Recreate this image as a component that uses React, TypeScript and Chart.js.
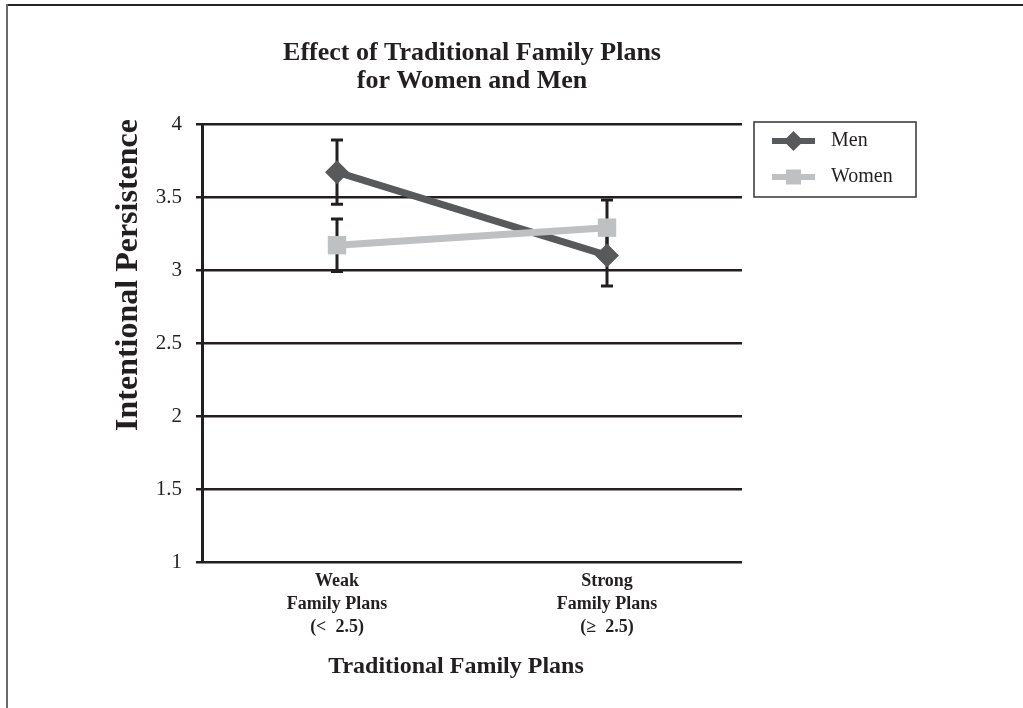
import React, { useEffect, useRef } from 'react';
import { Chart, registerables } from 'chart.js';

Chart.register(...registerables);

// ---- data ----
const categories: string[][] = [
  ['Weak', 'Family Plans', '(<  2.5)'],
  ['Strong', 'Family Plans', '(≥  2.5)'],
];
const seriesNames = ['Men', 'Women'];
const menValues = [3.67, 3.1];
const menErrLow = [3.45, 2.89];
const menErrHigh = [3.89, 3.29];
const womenValues = [3.17, 3.29];
const womenErrLow = [2.99, 3.1];
const womenErrHigh = [3.35, 3.48];
const yTicks = [1, 1.5, 2, 2.5, 3, 3.5, 4];
const yTickLabels = ['1', '1.5', '2', '2.5', '3', '3.5', '4'];
const titleLines = ['Effect of Traditional Family Plans', 'for Women and Men'];
const xTitle = 'Traditional Family Plans';
const yTitle = 'Intentional Persistence';

const MEN_COLOR = '#58595b';
const WOMEN_COLOR = '#bfc0c2';
const INK = '#231f20';
const SERIF = "'Liberation Serif', 'Times New Roman', serif";

const W = 1023;
const H = 708;

function drawDiamond(ctx: CanvasRenderingContext2D, x: number, y: number, r: number, color: string) {
  ctx.beginPath();
  ctx.moveTo(x, y - r);
  ctx.lineTo(x + r, y);
  ctx.lineTo(x, y + r);
  ctx.lineTo(x - r, y);
  ctx.closePath();
  ctx.fillStyle = color;
  ctx.fill();
}

const decorPlugin = {
  id: 'decor',
  beforeDraw(chart: any) {
    const ctx = chart.ctx as CanvasRenderingContext2D;
    ctx.save();
    ctx.fillStyle = '#ffffff';
    ctx.fillRect(0, 0, W, H);
    // frame
    ctx.strokeStyle = '#222222';
    ctx.lineWidth = 2;
    ctx.beginPath();
    ctx.moveTo(6, 5);
    ctx.lineTo(W, 5);
    ctx.stroke();
    ctx.strokeStyle = '#6b6b6b';
    ctx.beginPath();
    ctx.moveTo(7, 4);
    ctx.lineTo(7, H);
    ctx.stroke();
    ctx.restore();
  },
  beforeDatasetsDraw(chart: any) {
    const ctx = chart.ctx as CanvasRenderingContext2D;
    const xs = chart.scales.x;
    const ys = chart.scales.y;
    const bars = [
      [menErrLow, menErrHigh],
      [womenErrLow, womenErrHigh],
    ];
    ctx.save();
    ctx.strokeStyle = INK;
    ctx.lineWidth = 3;
    bars.forEach(([lo, hi]) => {
      lo.forEach((l, i) => {
        const x = xs.getPixelForValue(i);
        const y1 = ys.getPixelForValue(l);
        const y2 = ys.getPixelForValue(hi[i]);
        ctx.beginPath();
        ctx.moveTo(x, y1);
        ctx.lineTo(x, y2);
        ctx.moveTo(x - 6, y1);
        ctx.lineTo(x + 6, y1);
        ctx.moveTo(x - 6, y2);
        ctx.lineTo(x + 6, y2);
        ctx.stroke();
      });
    });
    ctx.restore();
  },
  afterDraw(chart: any) {
    const ctx = chart.ctx as CanvasRenderingContext2D;
    const a = chart.chartArea;
    ctx.save();
    ctx.fillStyle = INK;
    // title
    ctx.font = `bold 26px ${SERIF}`;
    ctx.textAlign = 'center';
    ctx.textBaseline = 'middle';
    const cx = (a.left + a.right) / 2;
    titleLines.forEach((t, i) => ctx.fillText(t, cx, 53 + i * 28));
    // x title
    ctx.font = `bold 24px ${SERIF}`;
    ctx.fillText(xTitle, 456, 667);
    // y title
    ctx.save();
    ctx.translate(129, 275);
    ctx.rotate(-Math.PI / 2);
    ctx.font = `bold 32px ${SERIF}`;
    ctx.fillText(yTitle, 0, 0);
    ctx.restore();
    // legend
    const bx = a.right + 12;
    const by = 122;
    ctx.strokeStyle = '#333333';
    ctx.lineWidth = 1.5;
    ctx.strokeRect(bx, by, 162, 75);
    const rows = [
      { name: seriesNames[0], color: MEN_COLOR, y: by + 19, marker: 'diamond' },
      { name: seriesNames[1], color: WOMEN_COLOR, y: by + 55, marker: 'square' },
    ];
    rows.forEach((r) => {
      ctx.strokeStyle = r.color;
      ctx.lineWidth = 6;
      ctx.beginPath();
      ctx.moveTo(bx + 18, r.y);
      ctx.lineTo(bx + 61, r.y);
      ctx.stroke();
      if (r.marker === 'diamond') {
        drawDiamond(ctx, bx + 39.5, r.y, 10, r.color);
      } else {
        ctx.fillStyle = r.color;
        ctx.fillRect(bx + 32, r.y - 7.5, 15, 15);
      }
      ctx.fillStyle = INK;
      ctx.font = `20px ${SERIF}`;
      ctx.textAlign = 'left';
      ctx.textBaseline = 'middle';
      ctx.fillText(r.name, bx + 77, r.y);
    });
    ctx.restore();
  },
};

export default function App() {
  const ref = useRef<HTMLCanvasElement | null>(null);

  useEffect(() => {
    if (!ref.current) return;
    const chart = new Chart(ref.current, {
      type: 'line',
      data: {
        labels: categories as any,
        datasets: [
          {
            label: seriesNames[0],
            data: menValues,
            borderColor: MEN_COLOR,
            backgroundColor: MEN_COLOR,
            borderWidth: 7,
            pointStyle: 'rectRot',
            pointRadius: 12,
            pointBorderWidth: 0,
            pointBackgroundColor: MEN_COLOR,
            order: 1,
          },
          {
            label: seriesNames[1],
            data: womenValues,
            borderColor: WOMEN_COLOR,
            backgroundColor: WOMEN_COLOR,
            borderWidth: 7,
            pointStyle: 'rect',
            pointRadius: 13,
            pointBorderWidth: 0,
            pointBackgroundColor: WOMEN_COLOR,
            order: 0,
          },
        ],
      },
      options: {
        animation: false,
        responsive: false,
        devicePixelRatio: 1,
        layout: { padding: { left: 0, top: 124, right: 281, bottom: 0 } },
        plugins: {
          legend: { display: false },
          title: { display: false },
          tooltip: { enabled: false },
        },
        scales: {
          x: {
            type: 'category',
            offset: true,
            grid: { display: false, drawTicks: false },
            border: { display: false },
            ticks: {
              color: INK,
              padding: 8,
              maxRotation: 0,
              autoSkip: false,
              font: { family: SERIF, size: 18, weight: 'bold', lineHeight: 1.28 },
            },
            afterFit: (s: any) => {
              s.height = H - 562;
            },
          },
          y: {
            min: 1,
            max: 4,
            afterBuildTicks: (s: any) => {
              s.ticks = yTicks.map((v) => ({ value: v }));
            },
            grid: {
              color: INK,
              lineWidth: 2.5,
              tickLength: 6,
              tickColor: INK,
              tickWidth: 2.5,
            },
            border: { display: true, color: INK, width: 3 },
            ticks: {
              color: INK,
              padding: 14,
              font: { family: SERIF, size: 21 },
              callback: (_v: any, i: number) => yTickLabels[i],
            },
            afterFit: (s: any) => {
              s.width = 202;
            },
          },
        },
      },
      plugins: [decorPlugin],
    });
    return () => chart.destroy();
  }, []);

  return (
    <div style={{ position: 'absolute', left: 0, top: 0, width: W, height: H, overflow: 'hidden', background: '#fff' }}>
      <canvas ref={ref} width={W} height={H} style={{ width: W, height: H, display: 'block' }} />
    </div>
  );
}
